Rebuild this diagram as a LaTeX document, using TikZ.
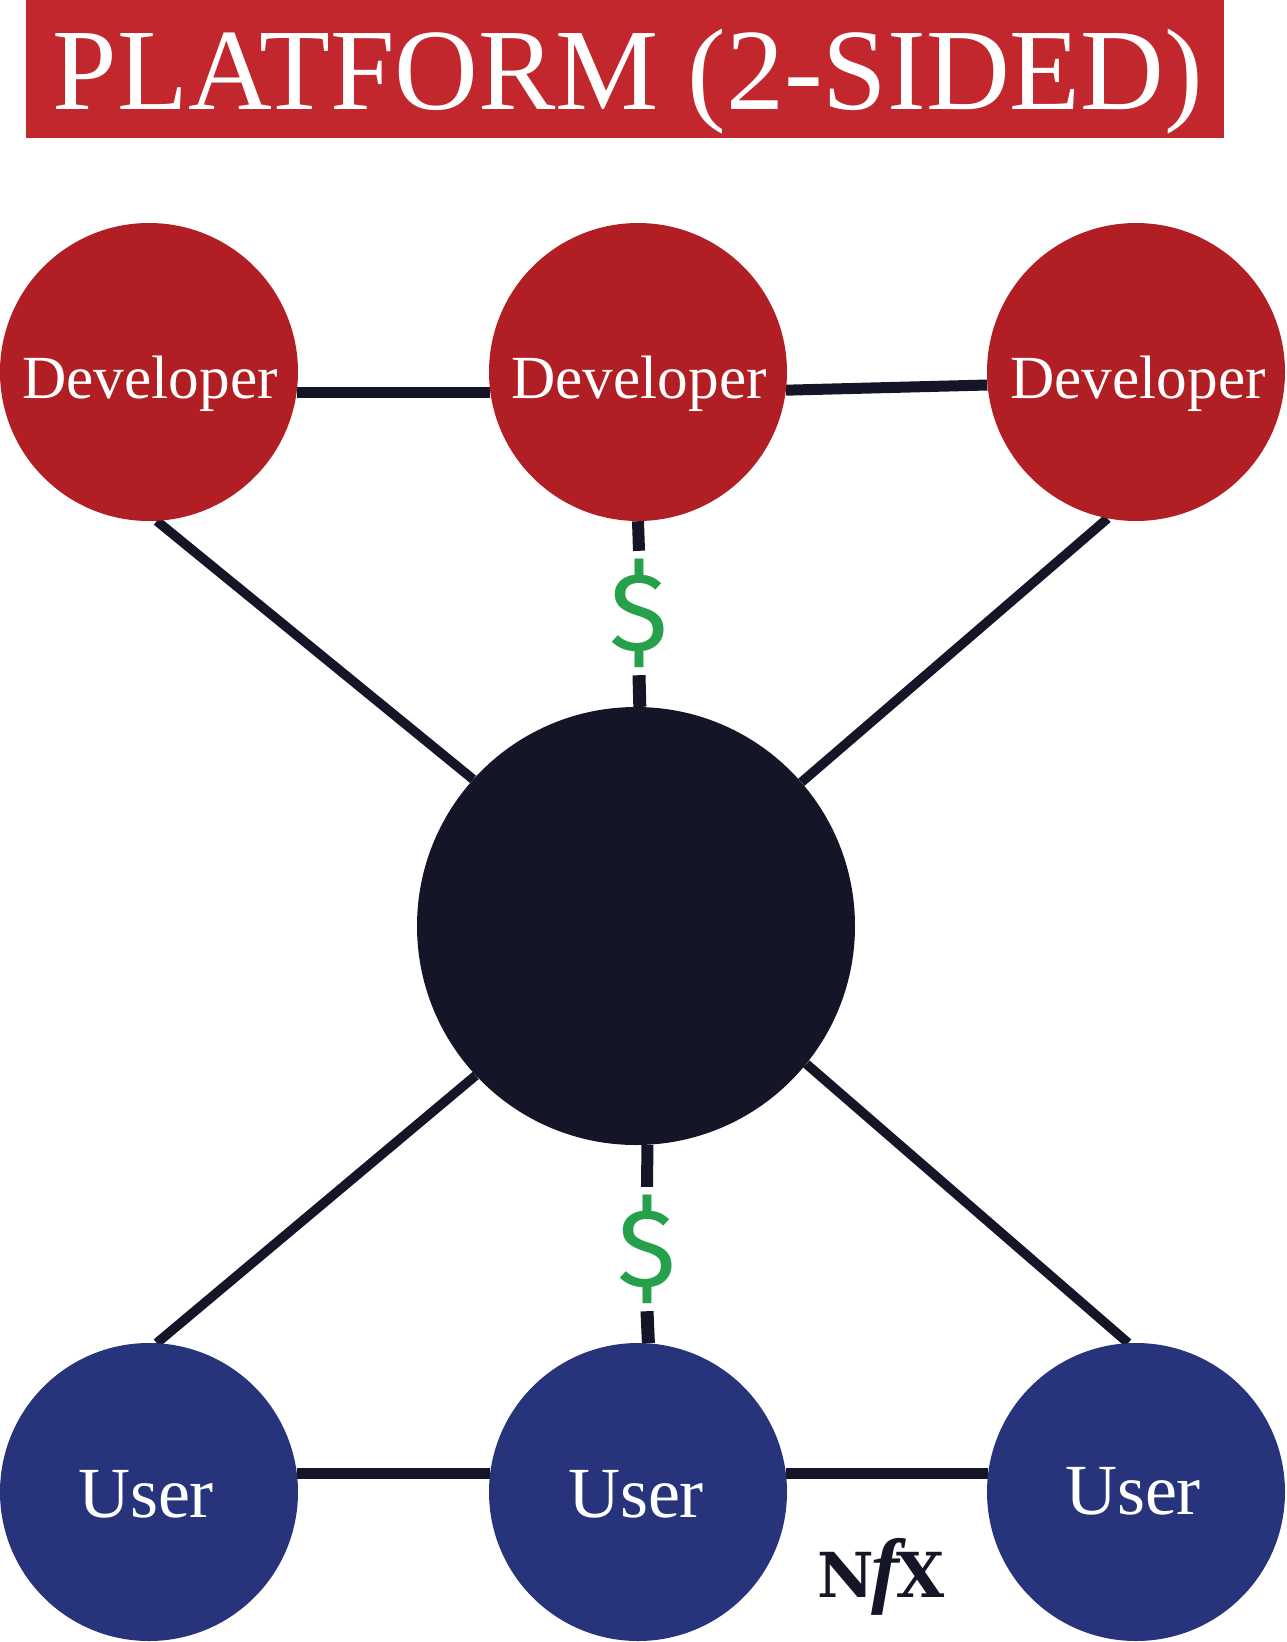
\documentclass[tikz,border=0pt]{standalone}
\usepackage{fontspec}
\usetikzlibrary{backgrounds}
\setmainfont{Liberation Serif}
\newfontfamily\dollarfont{Fira Sans}
\newfontfamily\slabfont{DejaVu Serif Bold}
\definecolor{banner}{HTML}{C1272D}
\definecolor{devred}{HTML}{B11F24}
\definecolor{userblue}{HTML}{27347B}
\definecolor{hubdark}{HTML}{141627}
\definecolor{moneygreen}{HTML}{26A04A}
\tikzset{
  x=1pt,y=-1pt,
  devnode/.style={circle,fill=devred,minimum size=298pt,inner sep=0pt},
  usernode/.style={circle,fill=userblue,minimum size=298pt,inner sep=0pt},
  hubnode/.style={circle,fill=hubdark,minimum size=438pt,inner sep=0pt},
  devlabel/.style={text=white,anchor=base,inner sep=0pt,font=\fontsize{61.3}{61.3}\selectfont},
  userlabel/.style={text=white,anchor=base,inner sep=0pt,font=\fontsize{72}{72}\selectfont},
  moneynode/.style={text=moneygreen,inner sep=0pt,minimum height=124pt,minimum width=50pt,font=\dollarfont\fontsize{111}{111}\selectfont},
  linkthick/.style={draw=hubdark,line width=11pt},
  linkthin/.style={draw=hubdark,line width=9.5pt},
}
\begin{document}
\begin{tikzpicture}
\useasboundingbox (0,0) rectangle (1286,1642);
\node[fill=banner,minimum width=1198pt,minimum height=138pt,inner sep=0pt,anchor=north west] (banner) at (26,0) {};
\node[text=white,anchor=base,inner sep=0pt,font=\fontsize{116}{116}\selectfont] (title) at (628,109) {PLATFORM (2-SIDED)};
\node[devnode] (d1) at (149,372) {};
\node[devnode] (d2) at (638,372) {};
\node[devnode] (d3) at (1136,372) {};
\node[usernode] (u1) at (149,1492) {};
\node[usernode] (u2) at (638,1492) {};
\node[usernode] (u3) at (1136,1492) {};
\node[hubnode] (hub) at (636,926) {};
\node[devlabel] (ld1) at (150,398) {Developer};
\node[devlabel] (ld2) at (639,398) {Developer};
\node[devlabel] (ld3) at (1138,398) {Developer};
\node[userlabel] (lu1) at (146,1517) {User};
\node[userlabel] (lu2) at (636,1517) {User};
\node[userlabel] (lu3) at (1133,1514) {User};
\node[moneynode] (m1) at (639,613) {\$};
\node[moneynode] (m2) at (647,1249) {\$};
\node[text=hubdark,anchor=base,inner sep=0pt,font=\fontsize{62}{62}\selectfont] (brand) at (881,1597) {{\slabfont N}\kern-3pt{\bfseries\itshape\fontsize{84}{84}\selectfont f}\kern-3pt{\slabfont X}};
\begin{pgfonlayer}{background}
\draw[linkthick] (d1.-8) -- (d2.188);
\draw[linkthick] (d2.-7) -- (d3.185);
\draw[linkthick] (u1.7) -- (u2.173);
\draw[linkthick] (u2.7) -- (u3.173);
\draw[linkthick,line width=12pt] (d2.south) -- (m1.north);
\draw[linkthick,line width=13pt] (m1.south) -- (hub.89);
\draw[linkthick,line width=12pt] (hub.-87) -- (m2.north);
\draw[linkthick,line width=13pt] (m2.south) -- (u2.86);
\draw[linkthin] (d1.-87) -- (hub.138);
\draw[linkthin] (d3.259) -- (hub.41);
\draw[linkthin] (u1.87) -- (hub.223);
\draw[linkthin] (u3.93) -- (hub.-39);
\end{pgfonlayer}
\end{tikzpicture}
\end{document}
